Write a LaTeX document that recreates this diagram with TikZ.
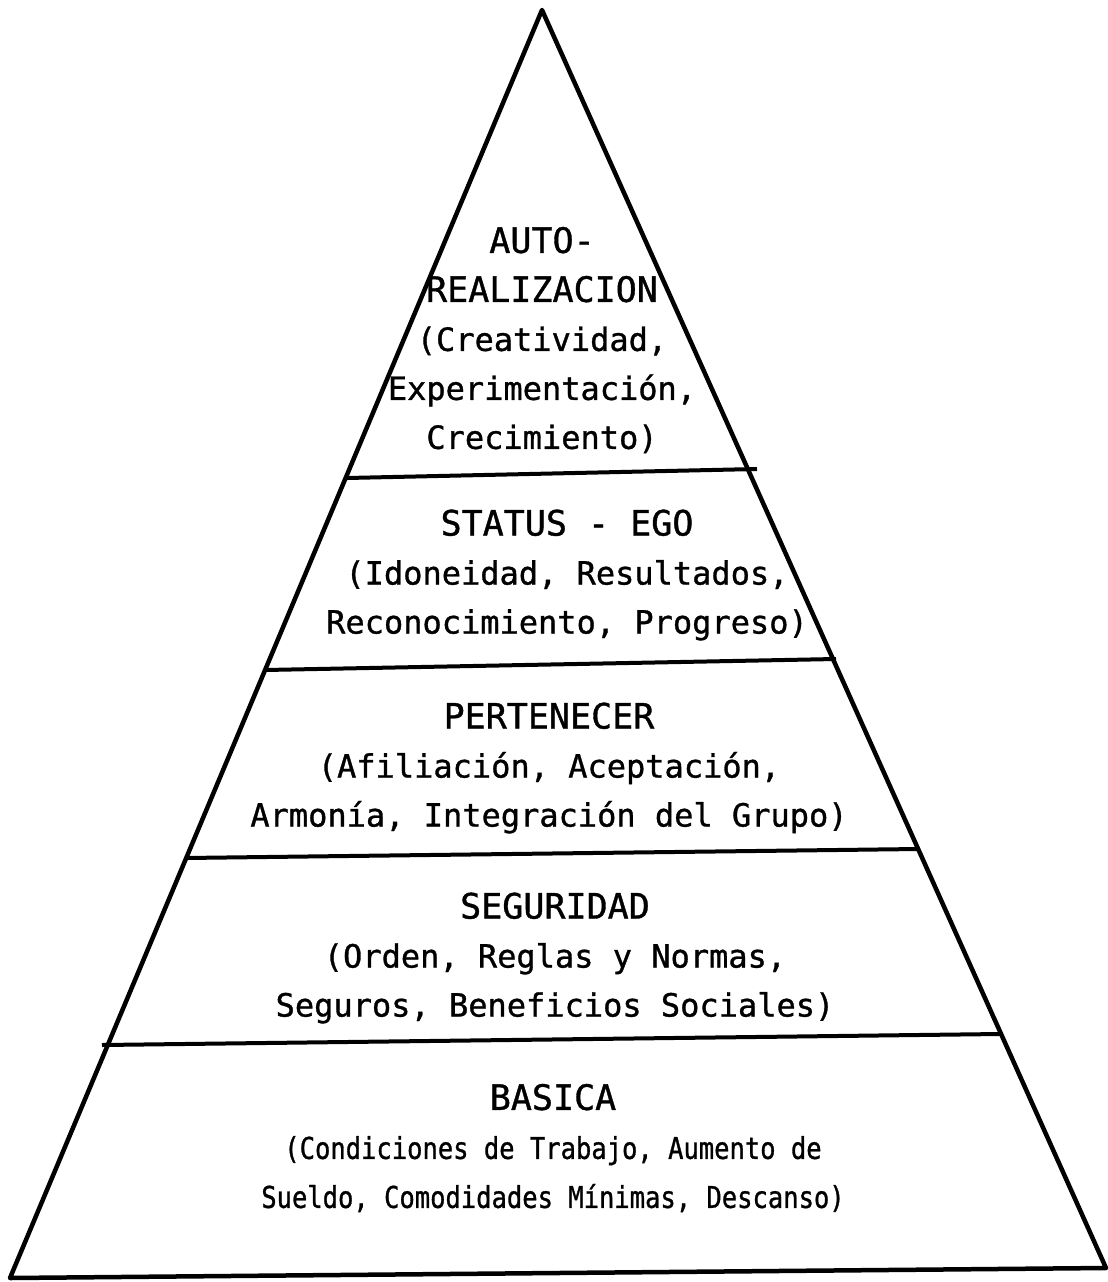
\documentclass[tikz,border=0pt]{standalone}
\usepackage{fontspec}
\setmonofont[FakeBold=1]{DejaVu Sans Mono}
\newfontfamily\condmono[FakeStretch=0.85,FakeBold=1]{DejaVu Sans Mono}
\newcommand{\lvlhead}[1]{{\ttfamily\fontsize{35}{49}\selectfont #1}}
\tikzset{
  lvltext/.style={align=center, inner sep=0pt, font=\ttfamily\fontsize{32}{49}\selectfont},
  lvlsmall/.style={lvltext, font=\condmono\fontsize{30}{49}\selectfont},
  edge/.style={line width=4.5pt, line join=round, line cap=round},
  divider/.style={line width=4pt}
}
\begin{document}
\begin{tikzpicture}[x=1pt,y=-1pt]
\useasboundingbox (0,0) rectangle (1108,1282);

% Corners of the pyramid
\coordinate (apex) at (542,10);
\coordinate (bl) at (10,1278);
\coordinate (br) at (1106,1268);
% Outer triangle
\draw[edge] (bl) -- (apex) -- (br) -- cycle;
% Lines between the levels
\draw[divider] (347,478) -- (757,469);
\draw[divider] (265,670) -- (836,659);
\draw[divider] (185,858) -- (918,849);
\draw[divider] (102,1045) -- (1000,1034);

% Levels, top to bottom
\node[lvltext] (auto) at (542,340) {\lvlhead{AUTO-}\\ \lvlhead{REALIZACION}\\ (Creatividad,\\ Experimentación,\\ Crecimiento)};
\node[lvltext] (ego) at (567,575) {\lvlhead{STATUS - EGO}\\ (Idoneidad, Resultados,\\ Reconocimiento, Progreso)};
\node[lvltext] (grupo) at (549,768) {\lvlhead{PERTENECER}\\ (Afiliación, Aceptación,\\ Armonía, Integración del Grupo)};
\node[lvltext] (seguridad) at (555,958) {\lvlhead{SEGURIDAD}\\ (Orden, Reglas y Normas,\\ Seguros, Beneficios Sociales)};
\node[lvlsmall] (basica) at (553,1148) {\lvlhead{BASICA}\\ (Condiciones de Trabajo, Aumento de\\ Sueldo, Comodidades Mínimas, Descanso)};

\end{tikzpicture}
\end{document}
